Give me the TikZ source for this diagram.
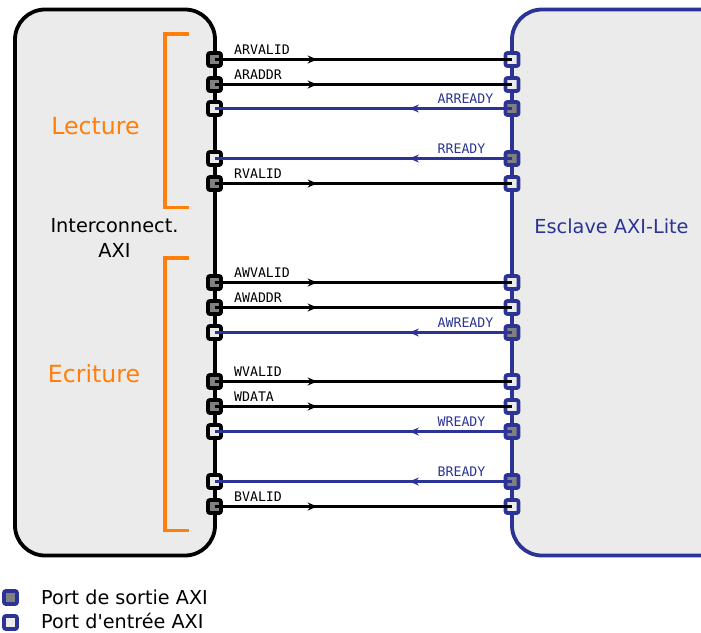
\documentclass[tikz,border=0pt]{standalone}
\usepackage{fontspec}
\setmainfont{DejaVu Sans}
\setmonofont{DejaVu Sans Mono}
\newfontfamily\plainsans{DejaVu Sans}
\usetikzlibrary{decorations.markings,arrows.meta}
\definecolor{axiblue}{HTML}{2B3494}
\definecolor{axiorange}{HTML}{FF7F0A}
\definecolor{boxgray}{HTML}{EBEBEB}
\definecolor{portgray}{HTML}{808080}
\tikzset{
  x=1pt,y=-1pt,
  block/.style={line width=3.8pt,fill=boxgray,rounded corners=30pt},
  port/.style={rectangle,rounded corners=2pt,minimum size=13pt,inner sep=0pt,line width=3.8pt,draw=#1},
  outp/.style={port=#1,fill=portgray},
  inp/.style={port=#1,fill=boxgray},
  tipmark/.style={postaction={decorate},decoration={markings,mark=at position 0.345 with {\arrow[#1]{Stealth[length=9.5pt,width=8pt]}}}},
  sigblack/.style={draw=black,line width=2.5pt,tipmark=black},
  sigblue/.style={draw=axiblue,line width=2.5pt,tipmark=axiblue},
  siglabel/.style={font=\ttfamily\fontsize{13.2}{13}\selectfont,inner sep=0pt},
  bigtext/.style={font=\fontsize{19.3}{25}\selectfont,inner sep=0pt,align=center},
  groupname/.style={font=\fontsize{23.6}{24}\selectfont,inner sep=0pt,text=axiorange},
  bracket/.style={draw=axiorange,line width=3.8pt},
  legendtext/.style={font=\plainsans\fontsize{19.2}{20}\selectfont,inner sep=0pt},
}
\begin{document}
\begin{tikzpicture}
\useasboundingbox (0,0) rectangle (701,632);
% blocks
\draw[block,draw=black] (15,9.5) rectangle (215,555.5);
\path[fill=boxgray,rounded corners=30pt] (720,9.5) -- (512,9.5) -- (512,555.5) -- (720,555.5) -- cycle;
\begin{scope}
\clip (0,0) rectangle (701,632);
\draw[block,draw=axiblue,fill=boxgray] (740,9.5) -- (512,9.5) -- (512,555.5) -- (740,555.5);
\end{scope}
% brackets
\draw[bracket] (189,34) -- (165,34) -- (165,207.5) -- (189,207.5);
\draw[bracket] (189,258) -- (165,258) -- (165,530.5) -- (189,530.5);
% block texts
\node[groupname,anchor=base] (lect) at (95.5,134) {Lecture};
\node[groupname,anchor=base] (ecri) at (94,382) {Ecriture};
\node[bigtext,text=black] (inter) at (114.5,238) {Interconnect.\\AXI};
\node[bigtext,text=axiblue] (escl) at (611.5,226) {Esclave AXI-Lite};
% black signals: master -> slave ; name/y
\foreach \n/\y/\t in {a/59.5/ARVALID,b/84.5/ARADDR,c/183.5/RVALID,d/282.5/AWVALID,e/307.5/AWADDR,f/381.5/WVALID,g/406.5/WDATA,h/506.5/BVALID}{
  \node[outp=black] (l\n) at (214.5,\y) {};
  \node[inp=axiblue] (r\n) at (512,\y) {};
  \draw[sigblack] (l\n.center) -- (r\n.center);
  \node[siglabel,anchor=base west,text=black] (t\n) at (234,\y-4.6) {\t};
}
% blue signals: slave -> master
\foreach \n/\y/\t in {p/108.5/ARREADY,q/158.5/RREADY,r/332.5/AWREADY,s/431.5/WREADY,u/481.5/BREADY}{
  \node[inp=black] (l\n) at (214.5,\y) {};
  \node[outp=axiblue] (r\n) at (512,\y) {};
  \draw[sigblue] (r\n.center) -- (l\n.center);
  \node[siglabel,anchor=base west,text=axiblue] (t\n) at (437.5,\y-4.6) {\t};
}
% legend
\node[outp=axiblue] (lego) at (10.5,597.5) {};
\node[inp=axiblue] (legi) at (10.5,622.5) {};
\node[legendtext,anchor=base west] (lt1) at (41,604) {Port de sortie AXI};
\node[legendtext,anchor=base west] (lt2) at (41,628.4) {Port d'entrée AXI};
\end{tikzpicture}
\end{document}
